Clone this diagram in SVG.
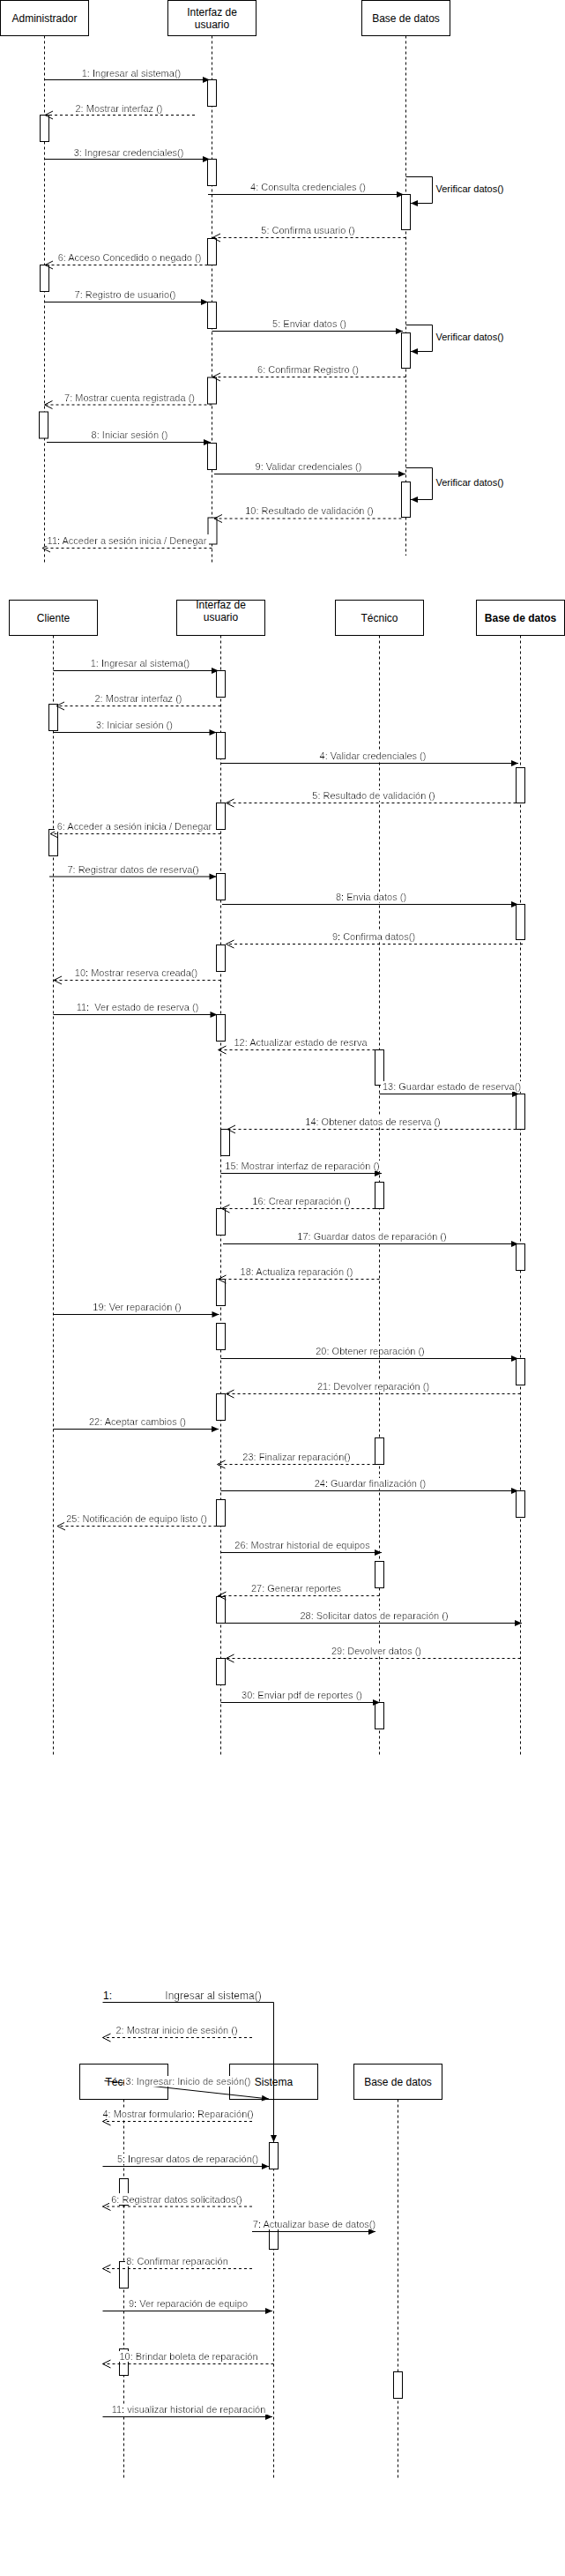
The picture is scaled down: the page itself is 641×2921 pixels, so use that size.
<svg xmlns="http://www.w3.org/2000/svg" width="641" height="2921" viewBox="0 0 641 2921">
<style>
.box{fill:#fff;stroke:#000;stroke-width:1}
.life{fill:none;stroke:#000;stroke-width:1;stroke-dasharray:3 3}
.act{fill:#fff;stroke:#000;stroke-width:1}
.msg{fill:none;stroke:#000;stroke-width:1;marker-end:url(#blk)}
.ret{fill:none;stroke:#000;stroke-width:1;stroke-dasharray:3 3;marker-end:url(#opn)}
.n{font-family:"Liberation Sans",Arial,Helvetica,sans-serif;font-size:12px;fill:#000;text-anchor:middle}
.b{font-weight:bold}
.l{font-family:"Liberation Sans",Arial,Helvetica,sans-serif;font-size:11px;fill:#000;text-anchor:middle;filter:url(#lb)}
.s{font-family:"Liberation Sans",Arial,Helvetica,sans-serif;font-size:11px;fill:#000;text-anchor:start}
</style>
<defs>
<filter id="lb" x="-0.01" y="0" width="1.02" height="1"><feFlood flood-color="#fff"/><feComposite in="SourceGraphic"/></filter>
<marker id="blk" markerUnits="userSpaceOnUse" viewBox="0 0 10 10" markerWidth="10" markerHeight="10" refX="9" refY="5" orient="auto"><path d="M1,1.5 L9,5 L1,8.5 z" fill="#000"/></marker>
<marker id="opn" markerUnits="userSpaceOnUse" viewBox="0 0 12 12" markerWidth="12" markerHeight="12" refX="10.5" refY="6" orient="auto"><path d="M1.5,1.5 L10.5,6 L1.5,10.5" fill="none" stroke="#000" stroke-width="1"/></marker>
</defs>
<rect width="641" height="2921" fill="#fff"/>

<!-- ===== Diagram 1 ===== -->
<g id="d1-administrador">
<rect class="box" x="0.5" y="0.5" width="100" height="40"/>
<text class="n" x="50.5" y="24.5">Administrador</text>
<path class="life" d="M50.5,40.5 V640"/>
<rect class="act" x="45.5" y="130.5" width="10" height="30"/>
<rect class="act" x="45.5" y="300.5" width="10" height="30"/>
<rect class="act" x="44.5" y="467" width="10" height="30"/>
</g>
<g id="d1-interfaz">
<rect class="box" x="190.5" y="0.5" width="100" height="40"/>
<text class="n" x="240.5" y="17.5">Interfaz de</text>
<text class="n" x="240.5" y="32">usuario</text>
<path class="life" d="M240.5,40.5 V640"/>
<rect class="act" x="235.5" y="90.5" width="10" height="30"/>
<rect class="act" x="235.5" y="180.5" width="10" height="30"/>
<rect class="act" x="235.5" y="270.5" width="10" height="30"/>
<rect class="act" x="235.5" y="342.5" width="10" height="30"/>
<rect class="act" x="235.5" y="428" width="10" height="30"/>
<rect class="act" x="235.5" y="502.5" width="10" height="30"/>
<rect class="act" x="236" y="587" width="10" height="30"/>
</g>
<g id="d1-basedatos">
<rect class="box" x="410.5" y="0.5" width="100" height="40"/>
<text class="n" x="460.5" y="24.5">Base de datos</text>
<path class="life" d="M460.5,40.5 V630"/>
<rect class="act" x="455.5" y="220.5" width="10" height="40"/>
<rect class="act" x="455.5" y="377.5" width="10" height="40"/>
<rect class="act" x="455.5" y="546.5" width="10" height="40"/>
</g>
<g id="d1-connectors">
<path class="msg" d="M50.5,90.5 H238"/>
<text class="l" x="149" y="86.5">1: Ingresar al sistema()</text>
<path class="ret" d="M221,130.5 H51"/>
<text class="l" x="135" y="126.5">2: Mostrar interfaz ()</text>
<path class="msg" d="M50.5,180.5 H238"/>
<text class="l" x="146" y="176.5">3: Ingresar credenciales()</text>
<path class="msg" d="M236,220.5 H458"/>
<text class="l" x="349.5" y="216">4: Consulta credenciales ()</text>
<path class="msg" d="M460.5,200.5 H490.5 V230.5 H466"/>
<text class="s" x="494.5" y="217.5">Verificar datos()</text>
<path class="ret" d="M460.5,269.5 H241"/>
<text class="l" x="349.5" y="265">5: Confirma usuario ()</text>
<path class="ret" d="M235.5,300.5 H51"/>
<text class="l" x="147" y="296">6: Acceso Concedido o negado ()</text>
<path class="msg" d="M50.5,342.5 H236"/>
<text class="l" x="142" y="338">7: Registro de usuario()</text>
<path class="msg" d="M240.5,375.5 H457"/>
<text class="l" x="351" y="371">5: Enviar datos ()</text>
<path class="msg" d="M460.5,368.5 H490.5 V398.5 H466"/>
<text class="s" x="494.5" y="385.5">Verificar datos()</text>
<path class="ret" d="M460.5,427.5 H241"/>
<text class="l" x="349.5" y="423">6: Confirmar Registro ()</text>
<path class="ret" d="M240.5,459 H50.5"/>
<text class="l" x="147" y="455">7: Mostrar cuenta registrada ()</text>
<path class="msg" d="M53,501.5 H239"/>
<text class="l" x="147" y="497">8: Iniciar sesión ()</text>
<path class="msg" d="M243,537.5 H460"/>
<text class="l" x="350" y="533">9: Validar credenciales ()</text>
<path class="msg" d="M460.5,530.5 H490.5 V566.5 H466"/>
<text class="s" x="494.5" y="550.5">Verificar datos()</text>
<path class="ret" d="M455.5,588 H243"/>
<text class="l" x="351" y="583">10: Resultado de validación ()</text>
<path class="ret" d="M240.5,621.5 H48"/>
<text class="l" x="144" y="616.5">11: Acceder a sesión inicia / Denegar</text>
</g>

<!-- ===== Diagram 2 ===== -->
<g id="d2-cliente">
<rect class="box" x="10.5" y="680.5" width="100" height="40"/>
<text class="n" x="60.5" y="704.5">Cliente</text>
<path class="life" d="M60.5,720.5 V1990"/>
<rect class="act" x="55.5" y="798.5" width="10" height="30"/>
<rect class="act" x="55.5" y="940.5" width="10" height="30"/>
</g>
<g id="d2-interfaz">
<rect class="box" x="200.5" y="680.5" width="100" height="40"/>
<text class="n" x="250.5" y="689.5">Interfaz de</text>
<text class="n" x="250.5" y="704">usuario</text>
<path class="life" d="M250.5,720.5 V1990"/>
<rect class="act" x="245.5" y="760.5" width="10" height="30"/>
<rect class="act" x="245.5" y="830.5" width="10" height="30"/>
<rect class="act" x="245.5" y="910.5" width="10" height="30"/>
<rect class="act" x="245.5" y="990.5" width="10" height="30"/>
<rect class="act" x="245.5" y="1071.5" width="10" height="30"/>
<rect class="act" x="245.5" y="1150.5" width="10" height="30"/>
<rect class="act" x="250.5" y="1280.5" width="10" height="30"/>
<rect class="act" x="245.5" y="1370.5" width="10" height="30"/>
<rect class="act" x="245.5" y="1450.5" width="10" height="30"/>
<rect class="act" x="245.5" y="1500.5" width="10" height="30"/>
<rect class="act" x="245.5" y="1580.5" width="10" height="30"/>
<rect class="act" x="245.5" y="1700.5" width="10" height="30"/>
<rect class="act" x="245.5" y="1810.5" width="10" height="30"/>
<rect class="act" x="245.5" y="1880.5" width="10" height="30"/>
</g>
<g id="d2-tecnico">
<rect class="box" x="380.5" y="680.5" width="100" height="40"/>
<text class="n" x="430.5" y="704.5">Técnico</text>
<path class="life" d="M430.5,720.5 V1990"/>
<rect class="act" x="425.5" y="1190.5" width="10" height="40"/>
<rect class="act" x="425.5" y="1340.5" width="10" height="30"/>
<rect class="act" x="425.5" y="1630.5" width="10" height="30"/>
<rect class="act" x="425.5" y="1770.5" width="10" height="30"/>
<rect class="act" x="425.5" y="1930.5" width="10" height="30"/>
</g>
<g id="d2-basedatos">
<rect class="box" x="540.5" y="680.5" width="100" height="40"/>
<text class="n b" x="590.5" y="704.5">Base de datos</text>
<path class="life" d="M590.5,720.5 V1990"/>
<rect class="act" x="585.5" y="870.5" width="10" height="40"/>
<rect class="act" x="585.5" y="1025.5" width="10" height="40"/>
<rect class="act" x="585.5" y="1240.5" width="10" height="40"/>
<rect class="act" x="585.5" y="1410.5" width="10" height="30"/>
<rect class="act" x="585.5" y="1540.5" width="10" height="30"/>
<rect class="act" x="585.5" y="1690.5" width="10" height="30"/>
</g>
<g id="d2-connectors">
<path class="msg" d="M60.5,760.5 H248"/>
<text class="l" x="159" y="756">1: Ingresar al sistema()</text>
<path class="ret" d="M250.5,800.5 H64"/>
<text class="l" x="157" y="796">2: Mostrar interfaz ()</text>
<path class="msg" d="M60.5,830.5 H245.5"/>
<text class="l" x="152.5" y="826">3: Iniciar sesión ()</text>
<path class="msg" d="M251,865.5 H588"/>
<text class="l" x="423" y="861">4: Validar credenciales ()</text>
<path class="ret" d="M585.5,910.5 H256.5"/>
<text class="l" x="424" y="906">5: Resultado de validación ()</text>
<path class="ret" d="M250.5,945.5 H57"/>
<text class="l" x="152.5" y="941">6: Acceder a sesión inicia / Denegar</text>
<path class="msg" d="M56,994 H245.5"/>
<text class="l" x="151" y="990">7: Registrar datos de reserva()</text>
<path class="msg" d="M252,1025.5 H588"/>
<text class="l" x="421" y="1021">8: Envia datos ()</text>
<path class="ret" d="M593,1070.5 H256.5"/>
<text class="l" x="424" y="1066">9: Confirma datos()</text>
<path class="ret" d="M250.5,1111.5 H61"/>
<text class="l" x="154.5" y="1107">10: Mostrar reserva creada()</text>
<path class="msg" d="M60.5,1150.5 H246.5"/>
<text class="l" x="156" y="1146" xml:space="preserve">11:  Ver estado de reserva ()</text>
<path class="ret" d="M425.5,1190.5 H247.5"/>
<text class="l" x="341" y="1186">12: Actualizar estado de resrva</text>
<path class="msg" d="M430.5,1240.5 H589"/>
<text class="l" x="512.5" y="1236">13: Guardar estado de reserva()</text>
<path class="ret" d="M585.5,1280.5 H258"/>
<text class="l" x="423" y="1276">14: Obtener datos de reserva ()</text>
<path class="msg" d="M250.5,1330.5 H433"/>
<text class="l" x="343" y="1326">15: Mostrar interfaz de reparación ()</text>
<path class="ret" d="M425.5,1370.5 H251.5"/>
<text class="l" x="342" y="1366">16: Crear reparación ()</text>
<path class="msg" d="M253,1410.5 H588"/>
<text class="l" x="422" y="1406">17: Guardar datos de reparación ()</text>
<path class="ret" d="M430.5,1450.5 H247.5"/>
<text class="l" x="336.5" y="1446">18: Actualiza reparación ()</text>
<path class="msg" d="M60.5,1490.5 H248.5"/>
<text class="l" x="155.5" y="1486">19: Ver reparación ()</text>
<path class="msg" d="M250.5,1540.5 H588"/>
<text class="l" x="420" y="1536">20: Obtener reparación ()</text>
<path class="ret" d="M590.5,1580.5 H256.5"/>
<text class="l" x="423.5" y="1576">21: Devolver reparación ()</text>
<path class="msg" d="M60.5,1620.5 H248"/>
<text class="l" x="156" y="1616">22: Aceptar cambios ()</text>
<path class="ret" d="M425.5,1660.5 H246.5"/>
<text class="l" x="336.5" y="1656">23: Finalizar reparación()</text>
<path class="msg" d="M250.5,1690.5 H588"/>
<text class="l" x="420" y="1686">24: Guardar finalización ()</text>
<path class="ret" d="M245.5,1730.5 H65"/>
<text class="l" x="155" y="1726">25: Notificación de equipo listo ()</text>
<path class="msg" d="M250.5,1760.5 H433"/>
<text class="l" x="343" y="1756">26: Mostrar historial de equipos</text>
<path class="ret" d="M430.5,1809.5 H247.5"/>
<text class="l" x="336" y="1805">27: Generar reportes</text>
<path class="msg" d="M245.5,1840.5 H592"/>
<text class="l" x="424.5" y="1836">28: Solicitar datos de reparación ()</text>
<path class="ret" d="M590.5,1880.5 H256.5"/>
<text class="l" x="427" y="1876">29: Devolver datos ()</text>
<path class="msg" d="M250.5,1930.5 H431"/>
<text class="l" x="342.5" y="1926">30: Enviar pdf de reportes ()</text>
</g>

<!-- ===== Diagram 3 ===== -->
<g id="d3-tecnico">
<rect class="box" x="90.5" y="2340.5" width="100" height="40"/>
<text class="n" x="140.5" y="2364.5">Técnico</text>
<path class="life" d="M140.5,2380.5 V2810"/>
<rect class="act" x="135.5" y="2470.5" width="10" height="30"/>
<rect class="act" x="135.5" y="2564.5" width="10" height="30"/>
<rect class="act" x="135.5" y="2663.5" width="10" height="30"/>
</g>
<g id="d3-sistema">
<rect class="box" x="260.5" y="2340.5" width="100" height="40"/>
<text class="n" x="310.5" y="2364.5">Sistema</text>
<path class="life" d="M310.5,2380.5 V2810"/>
<rect class="act" x="305.5" y="2429.5" width="10" height="30"/>
<rect class="act" x="305.5" y="2520.5" width="10" height="30"/>
</g>
<g id="d3-basedatos">
<rect class="box" x="401.5" y="2340.5" width="100" height="40"/>
<text class="n" x="451.5" y="2364.5">Base de datos</text>
<path class="life" d="M451.5,2380.5 V2810"/>
<rect class="act" x="446.5" y="2689.5" width="10" height="30"/>
</g>
<g id="d3-connectors">
<path class="msg" d="M116.5,2270.5 H310.5 V2429"/>
<text class="s" x="117" y="2266.5" style="font-size:12px">1:</text>
<text class="l" x="242" y="2266.5" style="font-size:12px">Ingresar al sistema()</text>
<path class="ret" d="M286,2310.5 H116.5"/>
<text class="l" x="200.5" y="2306">2: Mostrar inicio de sesión ()</text>
<path class="msg" d="M118.5,2359.5 L305,2380"/>
<text class="l" x="213.5" y="2364">3: Ingresar: Inicio de sesión()</text>
<path class="ret" d="M286,2405.5 H116.5"/>
<text class="l" x="202" y="2401">4: Mostrar formulario: Reparación()</text>
<path class="msg" d="M116.5,2456.5 H305"/>
<text class="l" x="213" y="2452">5: Ingresar datos de reparación()</text>
<path class="ret" d="M286,2502 H116.5"/>
<text class="l" x="200.5" y="2497.5">6: Registrar datos solicitados()</text>
<path class="msg" d="M286,2530.5 H426"/>
<text class="l" x="356.5" y="2526">7: Actualizar base de datos()</text>
<path class="ret" d="M286,2572.5 H116.5"/>
<text class="l" x="201" y="2568">8: Confirmar reparación</text>
<path class="msg" d="M116.5,2620.5 H309"/>
<text class="l" x="213.5" y="2616">9: Ver reparación de equipo</text>
<path class="ret" d="M310.5,2680.5 H116.5"/>
<text class="l" x="214" y="2676">10: Brindar boleta de reparación</text>
<path class="msg" d="M116.5,2740.5 H309"/>
<text class="l" x="214" y="2736">11: visualizar historial de reparación</text>
</g>
</svg>
